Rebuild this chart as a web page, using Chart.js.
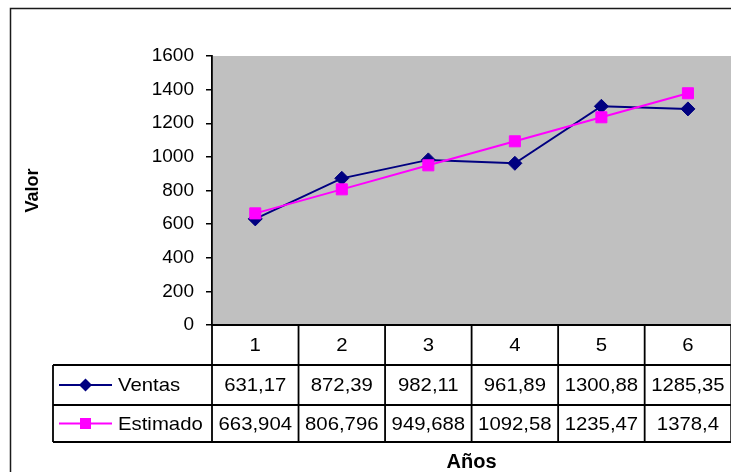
<!DOCTYPE html>
<html>
<head>
<meta charset="utf-8">
<script src="https://cdn.jsdelivr.net/npm/chart.js@4/dist/chart.umd.min.js"></script>
<style>
  html, body { margin: 0; padding: 0; background: #fff; overflow: hidden; }
  #wrap { width: 731px; height: 472px; overflow: hidden; }
  canvas { display: block; }
</style>
</head>
<body>
<div id="wrap"><canvas id="chart" width="740" height="472"></canvas></div>
<script>
// Years and the two series
const years = ['1', '2', '3', '4', '5', '6'];
const ventas = [631.17, 872.39, 982.11, 961.89, 1300.88, 1285.35];
const estimado = [663.904, 806.796, 949.688, 1092.58, 1235.47, 1378.4];
const seriesNames = ['Ventas', 'Estimado'];
const yTicks = [0, 200, 400, 600, 800, 1000, 1200, 1400, 1600];

const FONT = "'Liberation Sans', Arial, sans-serif";
const NAVY = '#000080';
const MAGENTA = '#FF00FF';

// Decimal comma, as in the data table
const fmt = v => String(v).replace('.', ',');

function drawMarker(ctx, style, x, y, color) {
  ctx.save();
  ctx.fillStyle = color;
  ctx.beginPath();
  if (style === 'rectRot') {
    const r = 6.5;
    ctx.moveTo(x, y - r); ctx.lineTo(x + r, y); ctx.lineTo(x, y + r); ctx.lineTo(x - r, y);
    ctx.closePath();
  } else {
    const s = 5.5;
    ctx.rect(x - s, y - s, 2 * s, 2 * s);
  }
  ctx.fill();
  ctx.restore();
}

function stretchedText(ctx, text, x, y, align) {
  ctx.save();
  ctx.translate(x, y);
  ctx.scale(1.07, 1);
  ctx.textAlign = align;
  ctx.textBaseline = 'middle';
  ctx.fillText(text, 0, 0);
  ctx.restore();
}

// Frame and grey plot background
const backdrop = {
  id: 'backdrop',
  beforeDraw(chart) {
    const { ctx, chartArea: a } = chart;
    ctx.save();
    ctx.fillStyle = '#fff';
    ctx.fillRect(0, 0, chart.width, chart.height);
    ctx.strokeStyle = '#1a1a1a';
    ctx.lineWidth = 1.5;
    ctx.strokeRect(10.5, 8.5, chart.width + 20, chart.height + 20);
    ctx.fillStyle = '#C0C0C0';
    ctx.fillRect(a.left, a.top, a.right - a.left, a.bottom - a.top);
    ctx.restore();
  }
};

// Data table under the plot, aligned on the category scale
const dataTable = {
  id: 'dataTable',
  afterDraw(chart) {
    const { ctx, chartArea: a } = chart;
    const xs = chart.scales.x;
    const half = (xs.getPixelForValue(1) - xs.getPixelForValue(0)) / 2;
    const rows = [a.bottom, a.bottom + 40, a.bottom + 80, a.bottom + 117];
    const legendLeft = 53;
    const colLeft = i => xs.getPixelForValue(i) - half;
    const colRight = i => xs.getPixelForValue(i) + half;

    ctx.save();
    ctx.strokeStyle = '#000';
    ctx.lineWidth = 1.8;
    ctx.beginPath();
    // horizontal rules
    ctx.moveTo(a.left, rows[0]); ctx.lineTo(colRight(years.length - 1), rows[0]);
    for (let r = 1; r < rows.length; r++) {
      ctx.moveTo(legendLeft, rows[r]); ctx.lineTo(colRight(years.length - 1), rows[r]);
    }
    // column rules
    for (let i = 0; i < years.length; i++) {
      ctx.moveTo(colLeft(i), rows[0]); ctx.lineTo(colLeft(i), rows[3]);
    }
    ctx.moveTo(colRight(years.length - 1), rows[0]); ctx.lineTo(colRight(years.length - 1), rows[3]);
    ctx.moveTo(legendLeft, rows[1]); ctx.lineTo(legendLeft, rows[3]);
    ctx.stroke();

    ctx.fillStyle = '#000';
    ctx.font = '19px ' + FONT;
    const series = [ventas, estimado];
    const colors = [NAVY, MAGENTA];
    const styles = ['rectRot', 'rect'];
    for (let i = 0; i < years.length; i++) {
      const cx = xs.getPixelForValue(i);
      stretchedText(ctx, years[i], cx, (rows[0] + rows[1]) / 2 + 1, 'center');
      for (let s = 0; s < series.length; s++) {
        stretchedText(ctx, fmt(series[s][i]), cx, (rows[s + 1] + rows[s + 2]) / 2 + 1, 'center');
      }
    }
    // legend keys
    for (let s = 0; s < series.length; s++) {
      const cy = (rows[s + 1] + rows[s + 2]) / 2;
      ctx.strokeStyle = colors[s];
      ctx.lineWidth = 2;
      ctx.beginPath();
      ctx.moveTo(59, cy); ctx.lineTo(112, cy);
      ctx.stroke();
      drawMarker(ctx, styles[s], 85.5, cy, colors[s]);
      ctx.fillStyle = '#000';
      stretchedText(ctx, seriesNames[s], 118, cy + 1, 'left');
    }
    ctx.restore();
  }
};

new Chart(document.getElementById('chart'), {
  type: 'line',
  data: {
    labels: years,
    datasets: [
      {
        label: seriesNames[0],
        data: ventas,
        borderColor: NAVY,
        backgroundColor: NAVY,
        borderWidth: 2,
        pointStyle: 'rectRot',
        pointRadius: 7,
        pointBorderWidth: 1,
        tension: 0,
        order: 1
      },
      {
        label: seriesNames[1],
        data: estimado,
        borderColor: MAGENTA,
        backgroundColor: MAGENTA,
        borderWidth: 2,
        pointStyle: 'rect',
        pointRadius: 7.8,
        pointBorderWidth: 1,
        tension: 0,
        order: 0
      }
    ]
  },
  options: {
    responsive: false,
    animation: false,
    layout: { padding: { left: 0, top: 56, right: 5, bottom: 0 } },
    plugins: {
      legend: { display: false },
      tooltip: { enabled: false }
    },
    scales: {
      x: {
        type: 'category',
        offset: true,
        grid: { display: false, drawTicks: false },
        border: { display: true, color: '#000', width: 1.8 },
        ticks: { display: false },
        title: {
          display: true,
          text: 'Años',
          color: '#000',
          font: { family: FONT, size: 20, weight: 'bold', lineHeight: 1 },
          padding: { top: 0, bottom: 0 }
        },
        afterFit(scale) { scale.height = 147; }
      },
      y: {
        min: 0,
        max: 1600,
        afterBuildTicks(scale) { scale.ticks = yTicks.map(v => ({ value: v })); },
        grid: { drawOnChartArea: false, drawTicks: true, tickLength: 6, color: '#000', lineWidth: 1.5 },
        border: { display: true, color: '#000', width: 1.8 },
        ticks: {
          color: '#000',
          padding: 12,
          font: { family: FONT, size: 19 },
          callback: v => String(v)
        },
        title: {
          display: true,
          text: 'Valor',
          color: '#000',
          font: { family: FONT, size: 18, weight: 'bold', lineHeight: 1.2 },
          padding: { top: 22, bottom: 0 }
        },
        afterFit(scale) { scale.width = 212; }
      }
    }
  },
  plugins: [backdrop, dataTable]
});
</script>
</body>
</html>
